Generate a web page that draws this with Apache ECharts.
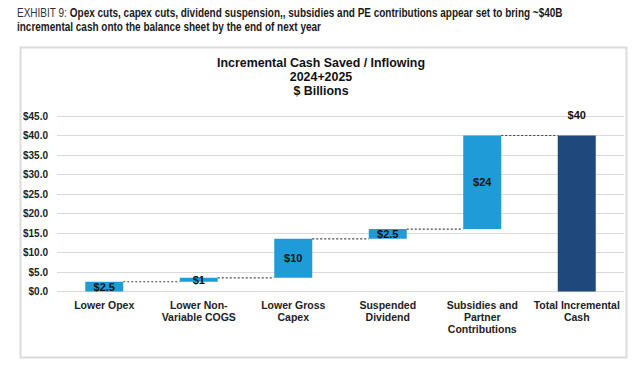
<!DOCTYPE html>
<html>
<head>
<meta charset="utf-8">
<script src="https://cdn.jsdelivr.net/npm/echarts@6/dist/echarts.min.js"></script>
<style>
html,body{margin:0;padding:0;background:#fff;}
#chart{width:640px;height:366px;}
</style>
</head>
<body>
<div id="chart"></div>
<script>
// ---- data ----
const categories = ['Lower Opex', 'Lower Non-\nVariable COGS', 'Lower Gross\nCapex', 'Suspended\nDividend', 'Subsidies and\nPartner\nContributions', 'Total Incremental\nCash'];
const increments = [2.5, 1, 10, 2.5, 24];
const totalValue = 40;
const valueLabels = ['$2.5', '$1', '$10', '$2.5', '$24', '$40'];
const yTicks = [0, 5, 10, 15, 20, 25, 30, 35, 40, 45];

// ---- derived ----
const bases = [];
const levels = [];
let run = 0;
increments.forEach(v => { bases.push(run); run += v; levels.push(run); });
const baseData = bases.concat([0]);
const lightBlue = '#1f9bd7';
const navy = '#1f497d';
const barData = increments.map(v => ({ value: v, itemStyle: { color: lightBlue } }))
  .concat([{ value: totalValue, itemStyle: { color: navy } }]);
const connectorData = levels.map((lv, i) => [i, lv]);
const BAR_W = 38;
const LAST = categories.length - 1;

const chart = echarts.init(document.getElementById('chart'), null, { renderer: 'svg' });
chart.setOption({
  animation: false,
  backgroundColor: '#fff',
  graphic: [
    { type: 'rect', left: 18, top: 45, shape: { width: 606, height: 310 }, style: { fill: 'none', stroke: '#dcdcdc', lineWidth: 2 }, z: -1 },
    { type: 'text', x: 17, y: 6, scaleX: 0.8, scaleY: 1,
      style: {
        text: '{r|EXHIBIT 9: }{b|Opex cuts, capex cuts, dividend suspension,, subsidies and PE contributions appear set to bring ~$40B}\n{b|incremental cash onto the balance sheet by the end of next year}',
        rich: {
          r: { fontFamily: 'Liberation Sans, Arial, sans-serif', fontSize: 12.5, fill: '#333', lineHeight: 14 },
          b: { fontFamily: 'Liberation Sans, Arial, sans-serif', fontSize: 12.5, fontWeight: 'bold', fill: '#1a1a1a', lineHeight: 14 }
        }
      } },
    { type: 'text', x: 321, y: 56, style: { text: 'Incremental Cash Saved / Inflowing\n2024+2025\n$ Billions', align: 'center', font: 'bold 12.4px "Liberation Sans", Arial, sans-serif', lineHeight: 14, fill: '#111' } }
  ],
  grid: { left: 57, right: 16, top: 116, bottom: 74.5, containLabel: false },
  xAxis: {
    type: 'category',
    data: categories,
    axisLine: { show: false },
    axisTick: { show: false },
    axisLabel: { interval: 0, margin: 7, fontFamily: 'Liberation Sans, Arial, sans-serif', fontSize: 10.5, fontWeight: 'bold', color: '#222', lineHeight: 12 }
  },
  yAxis: {
    type: 'value',
    min: 0, max: 45, interval: 5,
    axisLine: { show: false },
    axisTick: { show: false },
    splitLine: { lineStyle: { color: '#d9d9d9', width: 1 } },
    axisLabel: { margin: 9, fontFamily: 'Liberation Sans, Arial, sans-serif', fontSize: 10, fontWeight: 'bold', color: '#222',
      formatter: v => yTicks.indexOf(v) >= 0 ? '$' + v.toFixed(1) : '' }
  },
  series: [
    { type: 'bar', stack: 'w', data: baseData, barWidth: BAR_W, itemStyle: { color: 'transparent' }, silent: true },
    { type: 'bar', stack: 'w', data: barData, barWidth: BAR_W,
      label: { show: true, position: 'inside', fontFamily: 'Liberation Sans, Arial, sans-serif', fontSize: 11, fontWeight: 'bold', color: '#111',
        formatter: p => p.dataIndex === LAST ? '' : valueLabels[p.dataIndex] } },
    { type: 'bar', stack: 'lbl', data: barData.map((d, i) => i === LAST ? totalValue : '-'), barWidth: BAR_W, barGap: '-100%',
      itemStyle: { color: 'transparent' }, silent: true,
      label: { show: true, position: 'top', distance: 15, fontFamily: 'Liberation Sans, Arial, sans-serif', fontSize: 11, fontWeight: 'bold', color: '#111',
        formatter: p => valueLabels[p.dataIndex] } },
    { type: 'custom', data: connectorData, silent: true, z: 5,
      renderItem: (params, api) => {
        const i = api.value(0), lv = api.value(1);
        const a = api.coord([i, lv]);
        const b = api.coord([i + 1, lv]);
        return { type: 'line', shape: { x1: a[0] + BAR_W / 2, y1: a[1], x2: b[0] - BAR_W / 2, y2: b[1] },
          style: { stroke: '#444', lineWidth: 1.2, lineDash: [2, 2] } };
      } }
  ]
});
</script>
</body>
</html>
